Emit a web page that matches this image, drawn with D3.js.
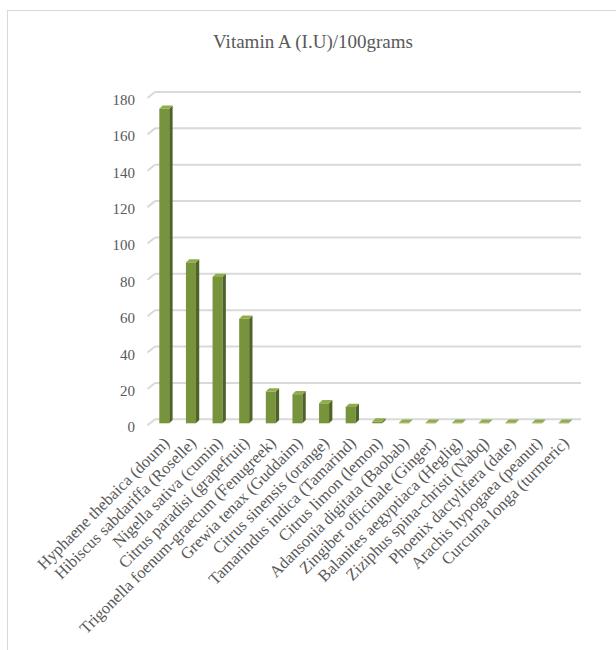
<!DOCTYPE html>
<html>
<head>
<meta charset="utf-8">
<script src="https://cdn.jsdelivr.net/npm/d3@7"></script>
<style>
  html, body { margin: 0; padding: 0; background: #fff; }
  svg { display: block; }
</style>
</head>
<body>
<script>
// Vitamin A content per 100 g of plant foods
const categories = [
  "Hyphaene thebaica (doum)",
  "Hibiscus sabdariffa (Roselle)",
  "Nigella sativa (cumin)",
  "Citrus paradisi (grapefruit)",
  "Trigonella foenum-graecum (Fenugreek)",
  "Grewia tenax (Guddaim)",
  "Citrus sinensis (orange)",
  "Tamarindus indica (Tamarind)",
  "Citrus limon (lemon)",
  "Adansonia digitata (Baobab)",
  "Zingiber officinale (Ginger)",
  "Balanites aegyptiaca (Heglig)",
  "Ziziphus spina-christi (Nabq)",
  "Phoenix dactylifera (date)",
  "Arachis hypogaea (peanut)",
  "Curcuma longa (turmeric)"
];
const vitaminA = [173, 88.5, 80.5, 57.5, 17.5, 16, 11, 9, 1, 0.3, 0.3, 0.3, 0.3, 0.3, 0.3, 0.3];
const yTicks = [0, 20, 40, 60, 80, 100, 120, 140, 160, 180];
const chartTitle = "Vitamin A (I.U)/100grams";

const FONT = "'Liberation Serif', 'Times New Roman', 'DejaVu Serif', serif";
const TEXT_COLOR = "#595959";

const W = 616, H = 650;
const svg = d3.select("body").append("svg").attr("width", W).attr("height", H);

// chart frame
svg.append("rect")
  .attr("x", 7.5).attr("y", 10.5).attr("width", 700).attr("height", 700)
  .attr("fill", "#fff").attr("stroke", "#d9d9d9").attr("stroke-width", 1);

svg.append("text")
  .attr("x", 313).attr("y", 48)
  .attr("text-anchor", "middle")
  .attr("font-family", FONT).attr("fill", TEXT_COLOR)
  .attr("font-size", 19)
  .text(chartTitle);

// back wall geometry
const wallLeft = 155, wallRight = 581;
const y = d3.scaleLinear().domain([0, 180]).range([419.3, 92]);
const x = d3.scaleBand().domain(categories).range([wallLeft, wallRight]).paddingInner(0).paddingOuter(0);

// depth offsets for the 3D look
const floorDx = -7.5, floorDy = 6;     // front edge of the floor
const barDx = 3.3, barDy = -3.2;       // depth of each column
const barFrontShift = 4;               // columns sit slightly in front of the wall
const barW = 10;

// gridlines on the back wall, with slanted floor ticks
const grid = svg.append("g");
yTicks.forEach(v => {
  const yy = y(v);
  grid.append("line")
    .attr("x1", wallLeft).attr("x2", wallRight)
    .attr("y1", yy).attr("y2", yy)
    .attr("stroke", "#d9d9d9").attr("stroke-width", 2);
  grid.append("line")
    .attr("x1", wallLeft + floorDx).attr("y1", yy + floorDy)
    .attr("x2", wallLeft).attr("y2", yy)
    .attr("stroke", "#d9d9d9").attr("stroke-width", 2);
});

// y tick labels
svg.append("g").selectAll("text")
  .data(yTicks).join("text")
  .attr("x", 135).attr("y", d => y(d) + 8)
  .attr("text-anchor", "end")
  .attr("dominant-baseline", "central")
  .attr("font-family", FONT).attr("fill", TEXT_COLOR)
  .attr("font-size", 15)
  .text(d => d);

// columns: front face, side face, top face
const bars = svg.append("g").selectAll("g")
  .data(categories.map((c, i) => ({ c, v: vitaminA[i] })))
  .join("g");

const fx = d => x(d.c) + (x.bandwidth() - barW) / 2 - barFrontShift;
const base = y(0) + barFrontShift;
const topY = d => y(d.v) + barFrontShift;

bars.append("rect")
  .attr("x", fx).attr("y", topY)
  .attr("width", barW).attr("height", d => Math.max(0, base - topY(d)))
  .attr("fill", "#77933c");

bars.append("path")
  .attr("d", d => {
    const x0 = fx(d) + barW, t = topY(d);
    return `M${x0},${t}L${x0 + barDx},${t + barDy}L${x0 + barDx},${base + barDy}L${x0},${base}Z`;
  })
  .attr("fill", "#4f6228");

bars.append("path")
  .attr("d", d => {
    const x0 = fx(d), t = topY(d);
    return `M${x0},${t}L${x0 + barW},${t}L${x0 + barW + barDx},${t + barDy}L${x0 + barDx},${t + barDy}Z`;
  })
  .attr("fill", "#8fae4a");

// category labels, rotated
svg.append("g").selectAll("text")
  .data(categories).join("text")
  .attr("transform", d => `translate(${x(d) + x.bandwidth() / 2 - 2},${440}) rotate(-45)`)
  .attr("text-anchor", "end")
  .attr("dy", "0.35em")
  .attr("font-family", FONT).attr("fill", TEXT_COLOR)
  .attr("font-size", 16.5)
  .text(d => d);
</script>
</body>
</html>
